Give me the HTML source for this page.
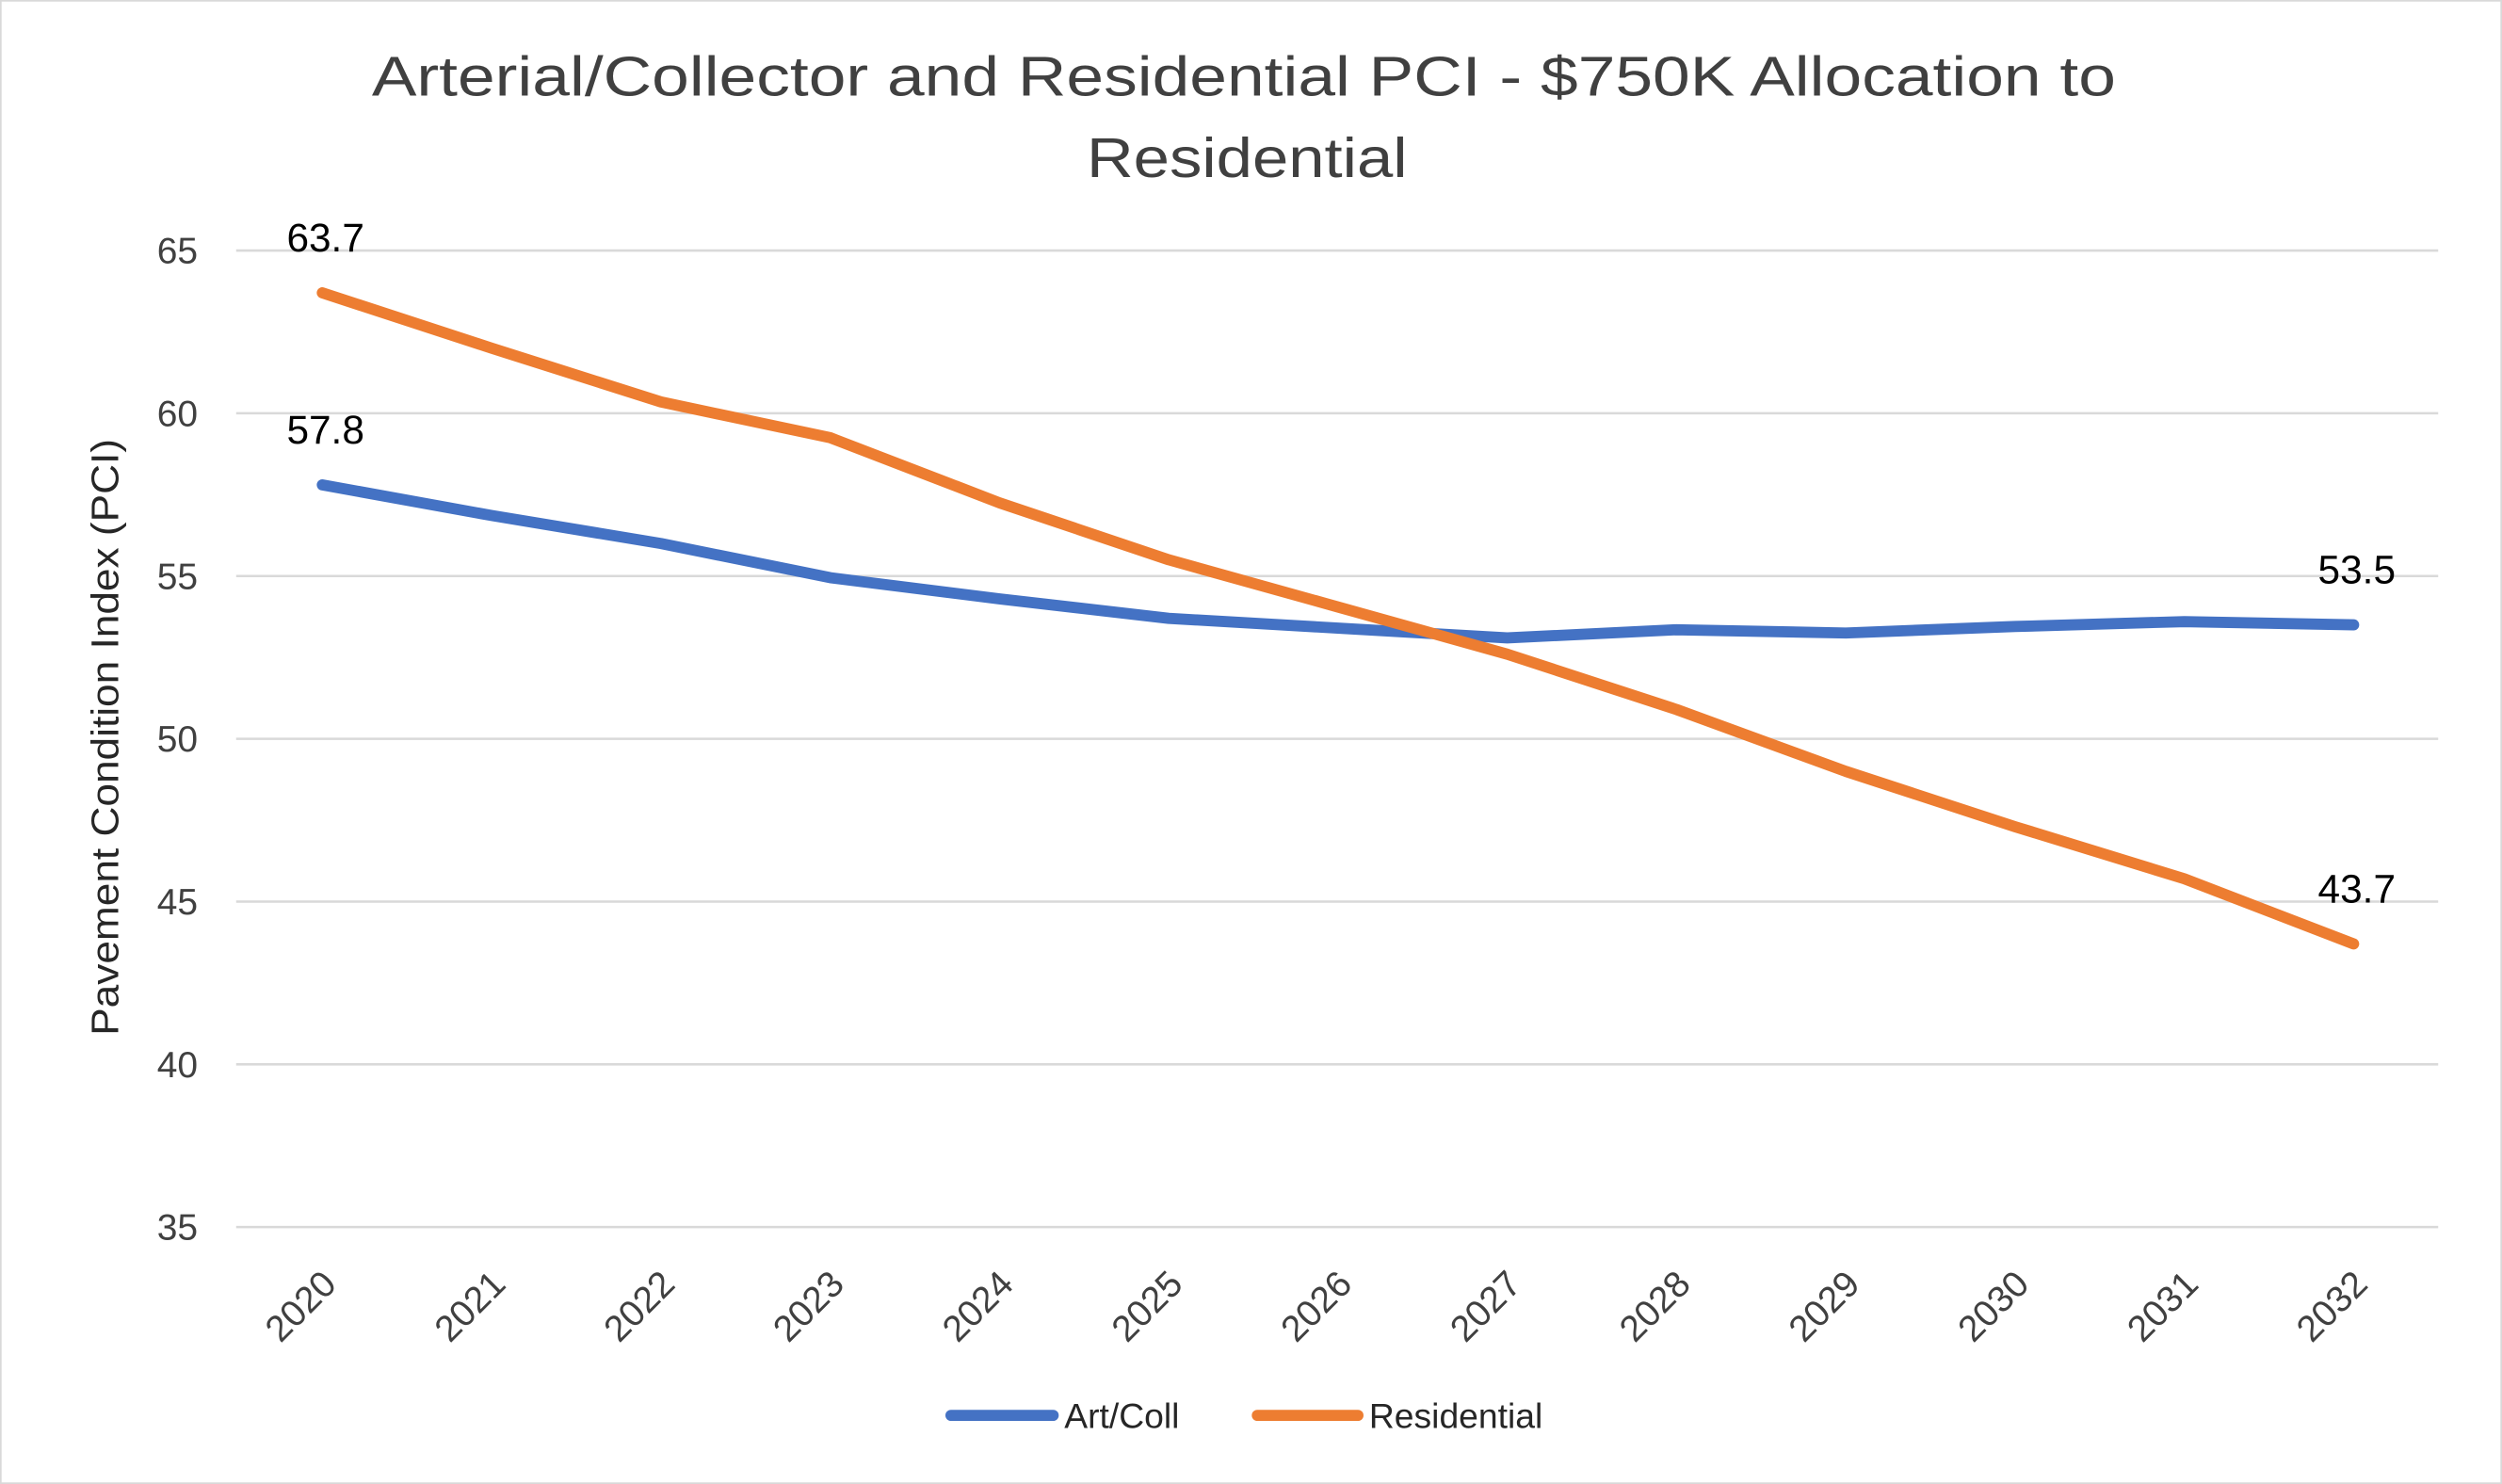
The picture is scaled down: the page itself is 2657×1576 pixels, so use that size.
<!DOCTYPE html>
<html><head><meta charset="utf-8"><style>
html,body{margin:0;padding:0;background:#fff;}
svg{display:block;font-family:"Liberation Sans",sans-serif;}
</style></head><body>
<svg id="chart" width="2657" height="1576" viewBox="0 0 1568 930" preserveAspectRatio="none" xmlns="http://www.w3.org/2000/svg">
<rect x="0.5" y="0.5" width="1567" height="929" fill="#fff" stroke="#d9d9d9"/>
<text x="233" y="60" textLength="1093" lengthAdjust="spacingAndGlyphs" font-size="35" fill="#404040">Arterial/Collector and Residential PCI  - $750K Allocation to</text>
<text x="681" y="111" textLength="201" lengthAdjust="spacingAndGlyphs" font-size="35" fill="#404040">Residential</text>
<text transform="translate(74,462) rotate(-90)" text-anchor="middle" font-size="24" textLength="374" lengthAdjust="spacingAndGlyphs" fill="#262626">Pavement Condition Index (PCI)</text>
<g id="grid"></g><g id="yt"></g><g id="xt"></g><g id="series"></g><g id="labels"></g>
<g>
<line x1="596" y1="887" x2="660" y2="887" stroke="#4472C4" stroke-width="7" stroke-linecap="round"/>
<text x="667" y="895" font-size="22" fill="#262626">Art/Coll</text>
<line x1="788" y1="887" x2="851" y2="887" stroke="#ED7D31" stroke-width="7" stroke-linecap="round"/>
<text x="858" y="895" font-size="22" fill="#262626">Residential</text>
</g>
</svg>
<script>
const years=[2020,2021,2022,2023,2024,2025,2026,2027,2028,2029,2030,2031,2032];
const artColl=[57.8,56.86,56.0,54.95,54.3,53.7,53.4,53.1,53.35,53.25,53.45,53.6,53.5];
const residential=[63.7,62.0,60.35,59.25,57.25,55.5,54.05,52.6,50.9,49.0,47.3,45.7,43.7];
const yTicks=[35,40,45,50,55,60,65];
const NS="http://www.w3.org/2000/svg";
function X(i){return 202+i*(1475-202)/12;}
function Y(v){return 769-(v-35)*(769-157)/30;}
function mk(t,a,p){const e=document.createElementNS(NS,t);for(const k in a)e.setAttribute(k,a[k]);document.getElementById(p).appendChild(e);return e;}
yTicks.forEach(v=>{
 const l=mk('line',{x1:148,x2:1528,y1:Y(v),y2:Y(v),stroke:'#d9d9d9','stroke-width':1.5},'grid');
 
 
 const t=mk('text',{x:124,y:Y(v)+8,'text-anchor':'end','font-size':23,fill:'#404040'},'yt');
 t.textContent=v;
 
 
});
years.forEach((y,i)=>{
 const t=mk('text',{transform:`translate(${X(i)+10},${806}) rotate(-45)`,'text-anchor':'end','font-size':23,fill:'#404040'},'xt');
 t.textContent=y;
 
 
});
function line(arr,col,name){
 const p=mk('polyline',{points:arr.map((v,i)=>X(i)+','+Y(v)).join(' '),fill:'none',stroke:col,'stroke-width':7,'stroke-linejoin':'round','stroke-linecap':'round'},'series');
 
 
}
line(artColl,'#4472C4','art-coll-line');
line(residential,'#ED7D31','residential-line');
function lab(arr,i,name){
 const t=mk('text',{x:X(i)+2,y:Y(arr[i])-26,'text-anchor':'middle','font-size':25,fill:'#000'},'labels');
 t.textContent=arr[i].toFixed(1);
 
 
}
lab(residential,0,'label-residential-2020');
lab(artColl,0,'label-art-coll-2020');
lab(artColl,12,'label-art-coll-2032');
lab(residential,12,'label-residential-2032');
</script>
</body></html>
